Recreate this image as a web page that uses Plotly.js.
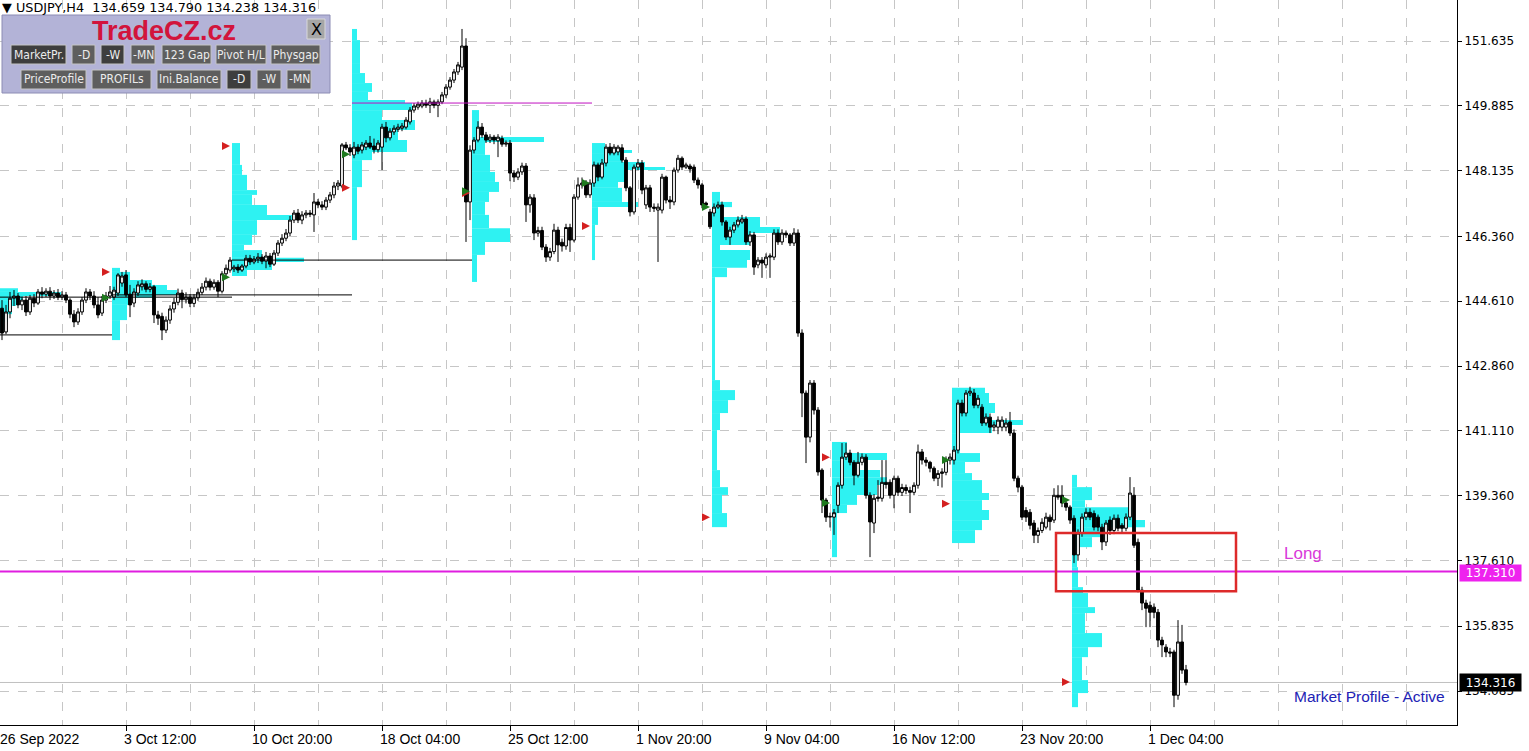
<!DOCTYPE html>
<html><head><meta charset="utf-8">
<script src="https://cdn.plot.ly/plotly-3.0.1.min.js"></script>
<style>html,body{margin:0;padding:0;background:#fff;overflow:hidden}#chart{width:1529px;height:751px}</style>
</head><body><div id="chart"></div>
<script>
// ---------- DATA: USDJPY H4 candles (bar index 0 = 26 Sep 2022 08:00) ----------
const open = [
144.42,143.78,144.32,144.69,144.75,144.51,144.64,144.32,144.69,144.56,144.86,144.80,144.88,144.75,144.83,144.72,144.78,144.64,144.26,144.05,144.32,144.64,144.86,144.75,144.51,144.29,144.64,144.75,
144.72,144.83,145.10,145.32,144.80,144.56,144.83,145.00,145.08,144.93,145.00,144.24,144.20,143.83,144.10,144.40,144.58,144.83,144.65,144.72,144.55,144.70,144.85,144.99,145.15,144.99,145.12,144.88,145.35,145.45,
145.48,145.53,145.45,145.56,145.77,145.67,145.75,145.80,145.69,145.83,145.61,145.91,146.18,146.31,146.45,146.80,146.99,146.80,146.94,146.99,146.94,147.29,147.21,147.15,147.34,147.48,147.72,147.72,148.83,148.75,
148.56,148.77,148.69,148.77,148.88,148.80,148.70,148.77,149.31,149.02,149.18,149.25,149.28,149.31,149.45,149.77,149.85,149.88,149.96,149.90,149.99,149.90,149.99,150.18,150.39,150.58,150.80,150.93,151.50,147.29,
148.69,148.96,149.31,149.10,148.96,149.04,148.94,149.00,148.85,148.88,148.07,147.96,148.10,148.26,147.21,147.40,146.45,146.52,146.07,145.80,145.95,146.53,146.20,146.10,146.60,146.26,147.42,147.75,147.80,147.48,
147.80,148.29,147.96,148.34,148.77,148.61,148.64,148.75,148.42,147.67,147.02,148.23,148.34,147.21,147.67,147.15,147.07,147.07,147.96,147.34,147.29,148.15,148.47,148.23,148.26,148.23,147.88,147.75,147.26,147.02,
146.99,147.15,147.21,146.75,146.34,146.53,146.67,146.75,146.83,146.21,146.40,145.59,145.72,145.59,145.80,145.80,146.45,146.21,146.45,146.40,146.18,146.45,143.75,142.13,140.94,142.40,141.67,140.05,139.24,138.78,
138.78,139.10,139.64,140.40,140.51,140.26,139.91,140.26,140.40,139.37,138.62,139.32,139.29,139.72,139.72,139.37,139.83,139.45,139.58,139.50,139.45,139.64,140.54,140.32,140.26,140.10,139.83,139.96,139.99,140.32,
140.32,140.59,141.86,141.59,142.13,142.13,141.80,141.75,141.32,141.48,141.21,141.21,141.21,141.21,141.35,141.05,139.83,139.59,138.96,138.91,138.62,138.29,138.42,138.51,138.78,138.70,139.37,139.37,139.16,139.05,
138.75,137.76,138.35,138.78,138.91,138.88,138.78,138.51,138.11,138.70,138.42,138.75,138.56,138.48,138.78,139.37,138.10,136.81,136.46,136.40,136.35,136.21,135.46,135.27,135.14,135.14,133.97,135.41,134.659];
const high = [
144.64,144.51,144.86,144.91,144.83,144.72,144.75,144.78,144.80,144.94,144.99,144.96,144.99,144.91,144.94,144.88,144.86,144.69,144.37,144.42,144.72,144.96,144.94,144.88,144.72,144.75,144.86,145.02,
145.00,145.37,145.40,145.45,145.05,144.96,145.15,145.20,145.15,145.10,145.05,144.35,144.30,144.20,144.50,144.70,144.95,144.92,144.85,144.80,144.80,144.95,145.10,145.25,145.22,145.20,145.18,145.42,145.60,145.80,
145.59,145.61,145.61,145.86,145.86,145.83,145.91,145.88,145.94,145.91,145.99,146.26,146.42,146.56,146.91,147.07,147.10,147.04,147.07,147.07,147.53,147.37,147.31,147.42,147.56,147.83,147.88,148.88,148.91,148.85,
148.91,148.85,148.91,148.96,149.07,149.00,148.96,149.40,149.45,149.28,149.36,149.40,149.42,149.58,149.85,149.96,150.00,150.04,150.05,150.10,150.05,150.06,150.26,150.47,150.66,150.88,151.07,151.96,151.71,148.82,
149.04,149.47,149.42,149.18,149.12,149.10,149.12,149.08,148.95,148.96,148.15,148.20,148.35,148.34,147.50,147.50,146.62,146.62,146.15,146.05,146.70,146.62,146.30,146.70,146.70,147.50,147.95,147.95,147.88,147.90,
148.38,148.35,148.45,148.85,148.88,148.85,148.83,148.85,148.50,147.72,148.30,148.45,148.42,147.75,147.75,147.25,147.25,148.05,148.00,147.45,148.22,148.56,148.52,148.35,148.32,148.30,147.95,147.80,147.30,147.10,
147.25,147.30,147.30,146.80,146.62,146.75,146.90,146.94,146.90,146.50,146.48,145.80,145.80,145.90,145.90,146.55,146.55,146.55,146.52,146.45,146.58,146.55,143.85,142.20,142.48,142.48,141.75,140.10,139.30,138.90,
139.00,139.72,140.78,140.78,140.60,140.32,140.54,140.50,140.48,139.45,139.40,139.78,140.32,140.32,139.80,139.90,139.90,139.68,139.66,139.60,139.72,140.74,140.62,140.40,140.30,140.15,140.05,140.10,140.42,140.50,
140.70,141.95,141.95,142.21,142.30,142.24,142.08,141.83,141.58,141.58,141.36,141.50,141.50,141.45,141.62,141.15,139.90,139.65,139.05,139.00,138.70,138.50,138.75,138.90,138.85,139.56,139.64,139.64,139.25,139.10,
138.83,138.45,138.88,139.02,139.02,138.96,138.85,138.60,138.70,138.80,138.85,138.85,138.62,138.88,139.86,139.59,138.20,136.90,136.55,136.50,136.45,136.30,135.55,135.35,135.25,135.20,136.00,135.87,134.790];
const low = [
143.56,143.72,144.15,144.48,144.42,144.37,144.21,144.24,144.45,144.51,144.69,144.72,144.64,144.67,144.64,144.64,144.56,144.15,143.91,143.97,144.24,144.56,144.64,144.42,144.15,144.21,144.56,144.67,
144.64,144.75,145.00,144.72,144.18,144.45,144.75,144.90,144.85,144.85,144.02,143.97,143.56,143.75,144.00,144.30,144.50,144.42,144.55,144.45,144.45,144.62,144.78,144.90,144.90,144.92,144.72,144.82,145.28,145.38,
145.40,145.37,145.40,145.50,145.59,145.61,145.64,145.61,145.50,145.53,145.56,145.83,146.10,146.23,146.37,146.72,146.72,146.69,146.85,146.88,146.48,147.12,147.07,147.07,147.26,147.39,147.61,147.66,148.69,148.53,
148.47,148.58,148.60,148.69,148.72,148.60,148.62,148.15,148.90,148.95,149.10,149.18,149.20,149.25,149.38,149.70,149.78,149.82,149.83,149.69,149.82,149.58,149.93,150.10,150.32,150.50,150.72,150.85,146.21,146.80,
148.60,148.90,149.02,148.88,148.88,148.85,148.50,148.78,148.78,147.85,147.83,147.88,148.02,146.75,147.00,146.26,146.35,145.99,145.67,145.70,145.88,145.67,145.95,146.00,145.94,146.20,147.35,147.65,147.40,147.40,
147.70,147.85,147.90,148.25,148.55,148.55,148.55,148.35,147.58,146.90,146.95,148.15,147.50,147.10,147.02,147.02,145.67,146.98,147.25,147.10,147.20,148.08,148.15,148.18,148.08,147.80,147.65,147.12,147.12,146.56,
146.90,147.10,146.65,146.26,146.13,146.45,146.60,146.70,146.13,146.10,145.32,145.50,145.24,145.50,145.24,145.72,146.13,146.13,146.32,146.10,146.10,143.65,141.48,140.24,140.80,141.55,139.90,138.89,138.65,138.50,
138.30,138.89,139.55,140.32,140.18,139.64,139.85,140.18,139.28,137.70,138.35,139.20,139.20,139.55,139.28,139.02,139.35,139.35,139.40,138.89,139.37,139.55,140.20,140.15,139.99,139.75,139.62,139.58,139.91,140.20,
140.20,140.50,141.50,141.50,142.05,141.72,141.72,141.24,141.25,141.05,141.10,141.02,141.10,141.10,140.97,139.75,139.45,138.70,138.65,138.45,138.08,138.08,138.35,138.45,138.42,138.62,139.25,139.05,138.95,138.60,
137.54,137.60,138.25,138.70,138.70,138.42,138.40,137.89,138.00,138.30,138.32,138.40,138.35,138.40,138.70,137.95,136.75,136.27,135.81,135.81,136.05,135.27,135.00,135.00,135.00,133.65,133.85,134.55,134.238];
const close = [
143.75,144.32,144.69,144.75,144.51,144.64,144.32,144.69,144.56,144.86,144.80,144.88,144.75,144.83,144.72,144.78,144.64,144.26,144.05,144.32,144.64,144.86,144.75,144.51,144.24,144.64,144.75,144.86,
144.91,145.32,145.29,144.78,144.51,144.86,145.05,145.08,144.93,145.00,144.24,144.15,143.83,144.10,144.40,144.58,144.83,144.65,144.72,144.55,144.70,144.85,144.99,145.15,144.99,145.12,144.88,145.35,145.50,145.72,
145.53,145.45,145.56,145.77,145.67,145.75,145.80,145.69,145.83,145.61,145.91,146.18,146.31,146.45,146.80,146.99,146.80,146.94,146.99,146.96,147.29,147.21,147.15,147.34,147.48,147.72,147.80,148.83,148.75,148.64,
148.77,148.66,148.83,148.88,148.77,148.70,148.88,149.31,149.02,149.20,149.28,149.31,149.34,149.50,149.77,149.88,149.93,149.96,149.90,149.99,149.90,149.99,150.18,150.39,150.58,150.80,150.99,151.50,147.29,148.69,
148.96,149.31,149.10,148.96,149.04,148.96,149.04,148.85,148.88,148.07,147.96,148.10,148.26,147.21,147.42,146.45,146.52,146.07,145.80,145.95,146.53,146.13,146.10,146.60,146.26,147.42,147.75,147.80,147.48,147.80,
148.29,147.96,148.34,148.77,148.61,148.77,148.77,148.42,147.67,147.02,148.23,148.34,147.61,147.67,147.15,147.12,147.15,147.96,147.34,147.29,148.15,148.47,148.23,148.29,148.18,147.88,147.75,147.21,147.21,146.62,
147.15,147.21,146.75,146.34,146.53,146.67,146.80,146.83,146.21,146.40,145.53,145.72,145.64,145.80,145.83,146.45,146.21,146.45,146.40,146.18,146.45,143.75,142.13,140.94,142.40,141.67,140.00,139.24,138.78,138.80,
138.90,139.64,140.40,140.51,140.26,139.91,140.26,140.40,139.37,138.65,139.29,139.29,139.72,139.66,139.37,139.83,139.45,139.58,139.50,139.45,139.64,140.54,140.32,140.26,140.10,139.83,139.96,140.00,140.32,140.40,
140.59,141.86,141.59,142.13,142.18,141.80,141.99,141.32,141.48,141.21,141.27,141.40,141.40,141.32,141.05,139.83,139.59,138.78,138.78,138.56,138.29,138.42,138.64,138.78,138.66,139.37,139.32,139.16,139.05,138.70,
137.76,138.35,138.78,138.91,138.78,138.51,138.51,138.11,138.62,138.42,138.75,138.48,138.48,138.78,139.43,138.02,136.81,136.46,136.32,136.21,136.21,135.46,135.33,135.14,135.11,133.97,135.41,134.65,134.316];

// axis labels
const yTicks = [151.635,149.885,148.135,146.360,144.610,142.860,141.110,139.360,137.610,135.835,134.085];
const dateLabels = ['26 Sep 2022','3 Oct 12:00','10 Oct 20:00','18 Oct 04:00','25 Oct 12:00','1 Nov 20:00','9 Nov 04:00','16 Nov 12:00','23 Nov 20:00','1 Dec 04:00'];
const dateLabelBars = [-0.5,31,63,95,127,159,191,223,255,287];

// weekly market profiles: start bar, price edges (top->bottom), volume length (in bars)
const profStart = [-2,28,58,88,118,148,178,208,238,268];
const profA_edges=[144.96,144.86,144.75,144.64,144.48,144.26,144.05,143.83];
const profA_vol  =[6.5,17.25,7.75,6,5,4,3];
const profB_edges=[145.51,145.40,145.18,145.05,144.91,144.78,144.70,144.51,144.10,143.56];
const profB_vol  =[2,4.5,10,13.75,16.25,10,4.5,3.75,2];
const profC_edges=[148.88,148.29,148.02,147.61,147.48,147.21,146.94,146.80,146.40,146.13,145.99,145.78,145.67,145.45,145.29];
const profC_vol  =[2,2.5,3.75,6.25,5,8.75,15.75,6.25,5,3,7.5,18,10,3.75];
const profD_edges=[151.96,151.66,151.04,150.77,150.50,150.26,150.04,149.96,149.77,149.50,149.23,148.96,148.64,148.42,147.69,146.26];
const profD_vol  =[1.25,2,2,3.25,5,4,13.25,15,7.5,15.75,11.5,13.75,5,2.5,1.25];
const profE_edges=[149.77,149.04,148.91,148.56,148.10,147.83,147.56,147.29,146.94,146.58,146.21,145.86,145.13];
const profE_vol  =[1.75,18,3.25,4.5,5.75,6.75,4.25,3.25,4.25,9.5,3.25,1.25];
const profF_edges=[148.88,148.69,148.61,148.37,148.23,148.15,147.83,147.67,147.29,147.15,146.67,145.72];
const profF_vol  =[3.25,10,7.5,13.25,18.25,8.25,6.5,7.5,11.5,1.5,0.75];
const profG_edges=[147.56,147.29,147.15,146.88,146.61,146.45,146.13,145.99,145.72,145.51,145.26,142.48,142.21,141.94,141.59,141.13,140.05,139.59,139.38,138.89,138.51];
const profG_vol  =[2,5,2.75,12,17,9.5,2,9.5,8.75,3.75,0.75,2,5.75,4,2,1.25,2,4,2.5,3.75];
const profH_edges=[140.81,140.51,140.32,140.05,139.86,139.65,139.38,139.11,138.89,137.70];
const profH_vol  =[3.75,13.75,7,12,13.75,11.25,6.25,3.75,1.25];
const profI_edges=[142.27,142.13,141.86,141.59,141.40,141.27,141.05,140.51,140.27,139.97,139.78,139.43,139.24,138.97,138.70,138.43,138.08];
const profI_vol  =[8.25,9.25,10.75,9.25,17.75,10,2,7,3.25,5,7.5,9.25,7.5,9.25,7.5,5.75];
const profJ_edges=[139.92,139.59,139.24,139.05,138.70,138.51,138.24,137.97,137.43,136.89,136.73,136.35,136.19,135.65,135.27,135.00,134.38,134.03,133.65];
const profJ_vol  =[1.25,5,3.25,15,18.25,7.5,5,1.25,1.5,2.75,4,5.75,3.25,7.5,4,2.5,4,1.5];

// POC extension lines
const pocPrice=[143.70,144.72,144.78,145.72,149.96];
const pocFrom =[-0.5,-0.5,27.5,57.5,87.5];
const pocTo   =[27.5,57.5,87.5,117.5,147.5];

// arrows at profile starts
const arrowBars  =[27,57,87,117,147,177,207,237,267];
const arrowRedY  =[145.40,148.80,147.67,147.53,146.64,138.78,140.40,139.14,134.33];
const arrowGreenY=[144.70,145.26,148.58,147.58,147.80,147.15,139.16,140.32,139.24];

// levels / zone
const longLevel = 137.310;
const bidPrice = 134.316;
const zoneBars = [263.5,308.5];
const zonePrice = [136.78,138.35];

// panel buttons
const btnRow1 = ['MarketPr.','-D','-W','-MN','123 Gap','Pivot H/L','Physgap'];
const btnRow2 = ['PriceProfile','PROFILs','Ini.Balance','-D','-W','-MN'];

// ---------- BUILD ----------
const W=1529,H=751,PR=72,PB=26;
const plotW=W-PR, plotH=H-PB;
const px = x => x/plotW;
const py = y => 1 - y/plotH;
const barIdx = open.map((_,i)=>i);
const profs=[[profA_edges,profA_vol],[profB_edges,profB_vol],[profC_edges,profC_vol],[profD_edges,profD_vol],[profE_edges,profE_vol],
             [profF_edges,profF_vol],[profG_edges,profG_vol],[profH_edges,profH_vol],[profI_edges,profI_vol],[profJ_edges,profJ_vol]];
const CYAN='#2ef2f2';
const traces=[];
profs.forEach((p,k)=>{
  const [e,v]=p;
  const yc=[],wd=[],bs=[];
  for(let j=0;j<v.length;j++){ yc.push((e[j]+e[j+1])/2); wd.push(Math.abs(e[j]-e[j+1])); bs.push(profStart[k]-0.5); }
  traces.push({type:'bar',orientation:'h',y:yc,x:v,base:bs,width:wd,marker:{color:CYAN,line:{width:0}},hoverinfo:'skip',showlegend:false});
});
// POC lines
const pocX=[],pocY=[];
pocPrice.forEach((p,i)=>{ if(i<4){pocX.push(pocFrom[i],pocTo[i],null);pocY.push(p,p,null);} });
traces.push({type:'scatter',mode:'lines',x:pocX,y:pocY,line:{color:'#000',width:1},hoverinfo:'skip',showlegend:false});
traces.push({type:'scatter',mode:'lines',x:[pocFrom[4],pocTo[4]],y:[pocPrice[4],pocPrice[4]],line:{color:'#c010c0',width:1},hoverinfo:'skip',showlegend:false});
// candles
traces.push({type:'candlestick',x:barIdx,open:open,high:high,low:low,close:close,
  increasing:{line:{color:'#000',width:1},fillcolor:'#fff'},
  decreasing:{line:{color:'#000',width:1},fillcolor:'#000'},
  whiskerwidth:0,hoverinfo:'skip',showlegend:false});
// arrows
traces.push({type:'scatter',mode:'markers',x:arrowBars,y:arrowRedY,marker:{symbol:'arrow-right',size:8,color:'#d42020'},hoverinfo:'skip',showlegend:false});
traces.push({type:'scatter',mode:'markers',x:arrowBars,y:arrowGreenY,marker:{symbol:'arrow-right',size:8,color:'#1e7a1e'},hoverinfo:'skip',showlegend:false});

const shapes=[
  {type:'line',xref:'paper',yref:'y',x0:0,x1:1,y0:bidPrice,y1:bidPrice,line:{color:'#c0c0c0',width:1},layer:'below'},
  {type:'line',xref:'paper',yref:'y',x0:0,x1:1,y0:longLevel,y1:longLevel,line:{color:'#e01ee0',width:2}},
  {type:'rect',xref:'x',yref:'y',x0:zoneBars[0],x1:zoneBars[1],y0:zonePrice[0],y1:zonePrice[1],line:{color:'#dd2a2a',width:2.5},fillcolor:'rgba(0,0,0,0)'},
  // panel
  {type:'rect',xref:'paper',yref:'paper',x0:px(2),x1:px(330),y0:py(15),y1:py(93),fillcolor:'#b3b3d7',line:{color:'#8c8cb4',width:1}},
  {type:'rect',xref:'paper',yref:'paper',x0:px(307),x1:px(325),y0:py(19),y1:py(39),fillcolor:'#a6a6a6',line:{color:'#d8d8d8',width:1}}
];
const annotations=[];
const row1X=[[11,66],[72,95],[101,124],[131,155],[162,211],[216,266],[271,320]];
const row1C=['#3e3e3e','#5e5e5e','#3e3e3e','#5e5e5e','#5e5e5e','#5e5e5e','#5e5e5e'];
const row2X=[[21,86],[92,151],[157,221],[227,251],[257,281],[287,311]];
const row2C=['#5e5e5e','#5e5e5e','#5e5e5e','#3e3e3e','#5e5e5e','#5e5e5e'];
function addBtns(labels,xs,cs,y0,y1){
  labels.forEach((t,i)=>{
    shapes.push({type:'rect',xref:'paper',yref:'paper',x0:px(xs[i][0]),x1:px(xs[i][1]),y0:py(y0),y1:py(y1),fillcolor:cs[i],line:{color:'#c4c4c4',width:1}});
    annotations.push({xref:'paper',yref:'paper',x:px((xs[i][0]+xs[i][1])/2),y:py((y0+y1)/2),text:t,showarrow:false,xanchor:'center',yanchor:'middle',
      font:{family:'DejaVu Sans Condensed, DejaVu Sans',size:12,color:'#ececec'}});
  });
}
addBtns(btnRow1,row1X,row1C,45,64);
addBtns(btnRow2,row2X,row2C,70,89);
annotations.push({xref:'paper',yref:'paper',x:px(164),y:py(31),text:'<b>TradeCZ.cz</b>',showarrow:false,xanchor:'center',yanchor:'middle',font:{family:'Liberation Sans, Arial',size:27,color:'#d2143c'}});
annotations.push({xref:'paper',yref:'paper',x:px(316),y:py(29),text:'X',showarrow:false,xanchor:'center',yanchor:'middle',font:{family:'DejaVu Sans',size:16,color:'#000'}});
annotations.push({xref:'paper',yref:'paper',x:px(1),y:1,yshift:1,text:'▼ USDJPY,H4  134.659 134.790 134.238 134.316',showarrow:false,xanchor:'left',yanchor:'top',borderpad:0,font:{family:'DejaVu Sans',size:12.8,color:'#000'}});
annotations.push({xref:'x',yref:'y',x:325.3,y:137.79,text:'Long',showarrow:false,xanchor:'center',yanchor:'middle',font:{family:'Liberation Sans, Arial',size:17,color:'#d93ad9'}});
annotations.push({xref:'paper',yref:'y',x:px(1447),y:133.95,text:'Market Profile - Active',showarrow:false,xanchor:'right',yanchor:'middle',font:{family:'Liberation Sans, Arial',size:15.5,color:'#2222b4'}});
annotations.push({xref:'paper',yref:'y',x:1,y:longLevel,xshift:2,yshift:-1,text:longLevel.toFixed(3),showarrow:false,xanchor:'left',yanchor:'middle',bgcolor:'#ee22ee',width:59,height:14,borderpad:1,font:{family:'DejaVu Sans',size:12,color:'#fff'}});
annotations.push({xref:'paper',yref:'y',x:1,y:bidPrice,xshift:2,text:bidPrice.toFixed(3),showarrow:false,xanchor:'left',yanchor:'middle',bgcolor:'#000',width:59,height:15,borderpad:1,font:{family:'DejaVu Sans',size:12,color:'#fff'}});
dateLabels.forEach((t,i)=>{
  annotations.push({xref:'x',yref:'paper',x:dateLabelBars[i],y:0,yshift:-4,xshift:i===0?-2:-4,text:t,showarrow:false,xanchor:'left',yanchor:'top',font:{family:'Liberation Sans, Arial',size:14,color:'#000'}});
});

const layout={
  width:W,height:H,margin:{l:0,r:PR,t:0,b:PB,pad:0},
  paper_bgcolor:'#fff',plot_bgcolor:'#fff',showlegend:false,barmode:'overlay',
  boxgap:0.3,boxgroupgap:0,
  xaxis:{type:'linear',range:[-0.5,plotW/4-0.5],rangeslider:{visible:false},showgrid:true,gridcolor:'#c6c6c6',griddash:'dash',gridwidth:1,
    tickmode:'array',tickvals:dateLabelBars.slice(1),ticks:'outside',ticklen:5,tickcolor:'#000',showticklabels:false,
    showline:true,linecolor:'#000',linewidth:1,zeroline:false,fixedrange:true,
    minor:{tick0:15,dtick:16,showgrid:true,gridcolor:'#c6c6c6',griddash:'dash',ticks:''}},
  yaxis:{side:'right',range:[133.168,152.742],tickmode:'array',tickvals:yTicks,ticktext:yTicks.map(v=>v.toFixed(3)),
    ticks:'outside',ticklen:4,tickcolor:'#000',showgrid:true,gridcolor:'#c6c6c6',griddash:'dash',
    showline:true,linecolor:'#000',linewidth:1,zeroline:false,fixedrange:true,
    tickfont:{family:'DejaVu Sans',size:12,color:'#000'}},
  shapes:shapes,annotations:annotations
};
Plotly.newPlot('chart',traces,layout,{displayModeBar:false,staticPlot:true});
</script></body></html>
